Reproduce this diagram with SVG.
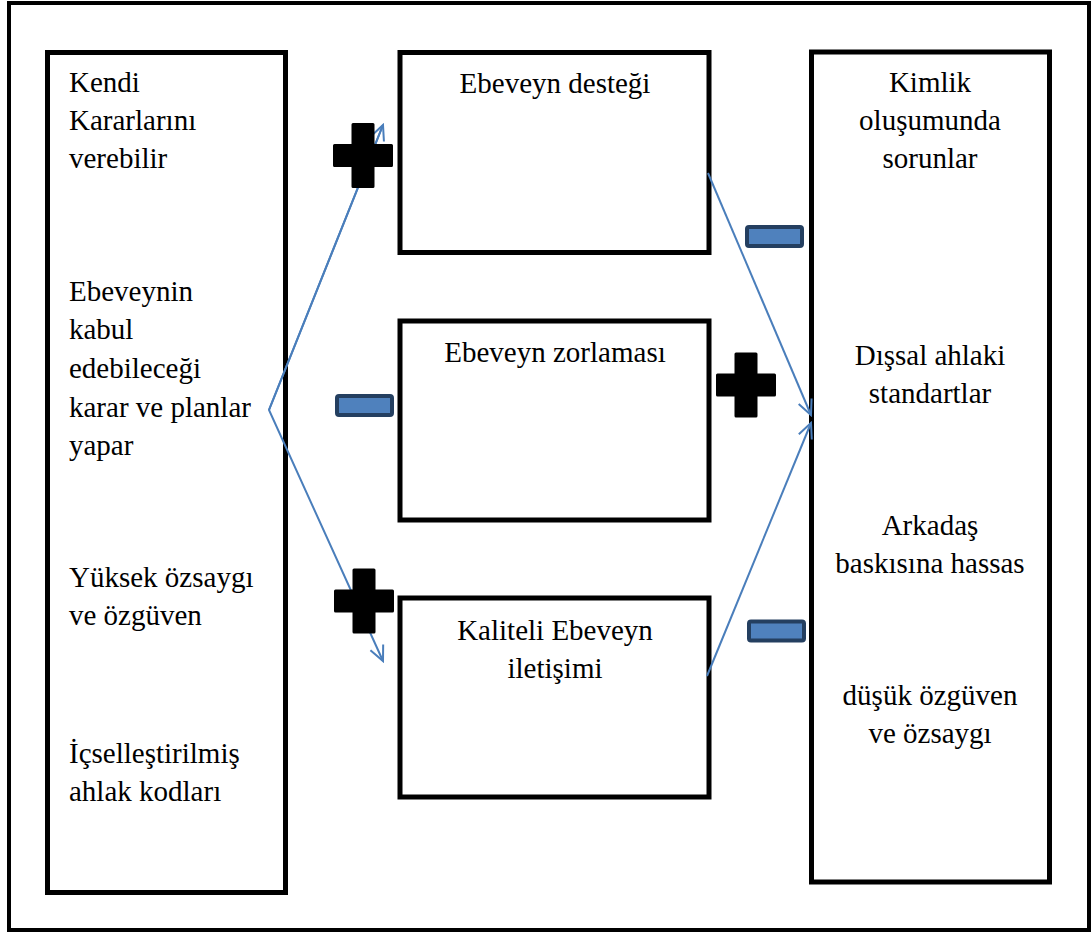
<svg xmlns="http://www.w3.org/2000/svg" width="1092" height="933" viewBox="0 0 1092 933">
<style>
.frame{fill:none;stroke:#000;stroke-width:4}
.box{fill:#fff;stroke:#000;stroke-width:5}
.t{font-size:29px;fill:#000}
.c{text-anchor:middle}
.conn{fill:none;stroke:#4a7ebb;stroke-width:2}
</style>
<defs>
<marker id="ah" viewBox="-16 -9 18 18" markerWidth="18" markerHeight="18" refX="0" refY="0" orient="auto" markerUnits="userSpaceOnUse">
<path d="M-15,-7 L0,0 L-15,7" fill="none" stroke="#4a7ebb" stroke-width="2"/>
</marker>
<path id="plus" d="M-10,-31 H10 V-10 H28.5 V10 H10 V31 H-10 V10 H-28.5 V-10 H-10 Z" fill="#000" stroke="#000" stroke-width="3" stroke-linejoin="round"/>
<rect id="minus" x="-27.5" y="-9.5" width="55" height="19" rx="2" fill="#4f81bd" stroke="#243f60" stroke-width="4"/>
</defs>
<rect width="1092" height="933" fill="#fff"/>
<rect class="frame" x="9" y="3" width="1080" height="927"/>

<g font-family="Liberation Serif, Tinos, DejaVu Serif, serif">
<g id="left">
<rect class="box" x="47.5" y="52.5" width="238" height="840"/>
<text class="t" x="69" y="92">Kendi</text>
<text class="t" x="69" y="130">Kararlarını</text>
<text class="t" x="69" y="168">verebilir</text>
<text class="t" x="69" y="301">Ebeveynin</text>
<text class="t" x="69" y="339">kabul</text>
<text class="t" x="69" y="378">edebileceği</text>
<text class="t" x="69" y="417">karar ve planlar</text>
<text class="t" x="69" y="455">yapar</text>
<text class="t" x="69" y="587">Yüksek özsaygı</text>
<text class="t" x="69" y="625">ve özgüven</text>
<text class="t" x="69" y="763">İçselleştirilmiş</text>
<text class="t" x="69" y="801">ahlak kodları</text>
</g>

<g id="destek">
<rect class="box" x="400" y="52.5" width="309" height="200"/>
<text class="t c" x="555" y="93">Ebeveyn desteği</text>
</g>

<g id="zorlama">
<rect class="box" x="400" y="321" width="309" height="199"/>
<text class="t c" x="555" y="362">Ebeveyn zorlaması</text>
</g>

<g id="iletisim">
<rect class="box" x="400" y="598" width="309" height="199"/>
<text class="t c" x="555" y="640">Kaliteli Ebeveyn</text>
<text class="t c" x="555" y="678">iletişimi</text>
</g>

<g id="right">
<rect class="box" x="811.5" y="52" width="238" height="830"/>
<text class="t c" x="930" y="92">Kimlik</text>
<text class="t c" x="930" y="130">oluşumunda</text>
<text class="t c" x="930" y="168">sorunlar</text>
<text class="t c" x="930" y="365">Dışsal ahlaki</text>
<text class="t c" x="930" y="403">standartlar</text>
<text class="t c" x="930" y="535">Arkadaş</text>
<text class="t c" x="930" y="573">baskısına hassas</text>
<text class="t c" x="930" y="705">düşük özgüven</text>
<text class="t c" x="930" y="743">ve özsaygı</text>
</g>
</g>

<g id="connectors">
<path class="conn" d="M383,125 L269,410 L383,661" marker-end="url(#ah)"/>
<path class="conn" d="M269,410 L383,125" marker-end="url(#ah)"/>
<path class="conn" d="M708,173 L811,415" marker-end="url(#ah)"/>
<path class="conn" d="M707,676 L811,423" marker-end="url(#ah)"/>
</g>

<g id="signs">
<use href="#plus" x="363" y="155.5"/>
<use href="#plus" x="746" y="385"/>
<use href="#plus" x="364" y="601"/>
<use href="#minus" x="774.5" y="236.5"/>
<use href="#minus" x="364.5" y="405.5"/>
<use href="#minus" x="776.5" y="631"/>
</g>
</svg>
